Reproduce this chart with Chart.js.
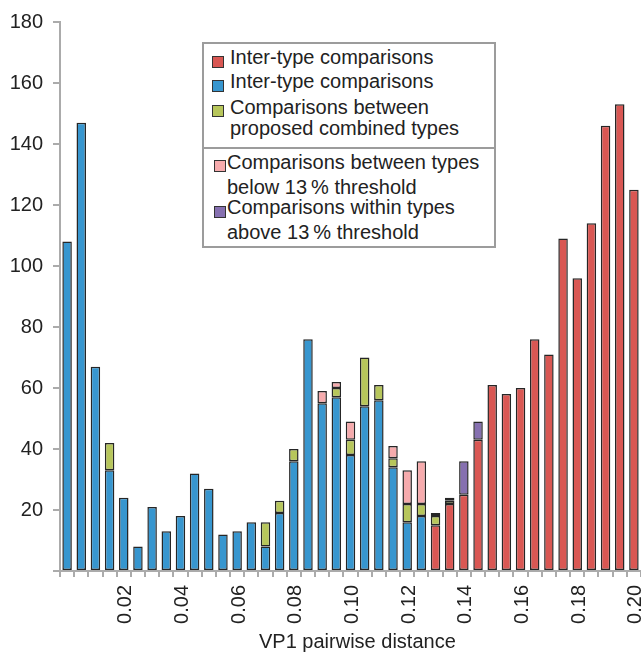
<!DOCTYPE html>
<html>
<head>
<meta charset="utf-8">
<script src="https://cdn.jsdelivr.net/npm/chart.js@4/dist/chart.umd.min.js"></script>
<style>
  body { margin: 0; background: #fff; font-family: "Liberation Sans", Arial, sans-serif; color: #222; }
  #wrap { position: relative; width: 641px; height: 654px; overflow: hidden; }
  #legend { position: absolute; left: 202px; top: 42px; width: 294px; height: 206px; box-sizing: border-box;
            border: 2px solid #9c9c9c; background: #fff; }
  #legend .divider { position: absolute; left: 0; right: 0; top: 103px; height: 2px; background: #9c9c9c; }
  #legend .txt { position: absolute; font-size: 20px; line-height: 24px; white-space: nowrap; }
  #legend .sw { position: absolute; width: 10px; height: 10px; border: 1px solid #333; }
  #xtitle { position: absolute; left: 259px; top: 629px; font-size: 20px; line-height: 24px; white-space: nowrap; }
</style>
</head>
<body>
<div id="wrap">
  <canvas id="chart"></canvas>
  <div id="legend">
    <div class="divider"></div>
    <div class="sw" style="left:8px;top:12px;background:#d95753"></div>
    <div class="txt" style="left:26px;top:1px">Inter-type comparisons</div>
    <div class="sw" style="left:8px;top:36px;background:#3796cf"></div>
    <div class="txt" style="left:26px;top:25px">Inter-type comparisons</div>
    <div class="sw" style="left:8px;top:61px;background:#b7c65b"></div>
    <div class="txt" style="left:26px;top:51px">Comparisons between</div>
    <div class="txt" style="left:26px;top:72px">proposed combined types</div>
    <div class="sw" style="left:10px;top:116px;background:#f6abad"></div>
    <div class="txt" style="left:23px;top:106px">Comparisons between types</div>
    <div class="txt" style="left:23px;top:131px">below 13&#8201;% threshold</div>
    <div class="sw" style="left:10px;top:162px;background:#8670b0"></div>
    <div class="txt" style="left:23px;top:151px">Comparisons within types</div>
    <div class="txt" style="left:23px;top:176px">above 13&#8201;% threshold</div>
  </div>
  <div id="xtitle">VP1 pairwise distance</div>
</div>
<script>
// VP1 pairwise distance bins (0.005 wide)
const distances = [0.000, 0.005, 0.010, 0.015, 0.020, 0.025, 0.030, 0.035, 0.040, 0.045,
  0.050, 0.055, 0.060, 0.065, 0.070, 0.075, 0.080, 0.085, 0.090, 0.095,
  0.100, 0.105, 0.110, 0.115, 0.120, 0.125, 0.130, 0.135, 0.140, 0.145,
  0.150, 0.155, 0.160, 0.165, 0.170, 0.175, 0.180, 0.185, 0.190, 0.195, 0.200];
const xTickLabels = ['0.02', '0.04', '0.06', '0.08', '0.10', '0.12', '0.14', '0.16', '0.18', '0.20'];
const yTickLabels = [20, 40, 60, 80, 100, 120, 140, 160, 180];

// counts per bin (0 = no segment)
const interRed = [0, 0, 0, 0, 0, 0, 0, 0, 0, 0, 0, 0, 0, 0, 0, 0, 0, 0, 0, 0, 0, 0, 0, 0, 0, 0,
  15, 22, 25, 43, 61, 58, 60, 76, 71, 109, 96, 114, 146, 153, 125];
const interBlue = [108, 147, 67, 33, 24, 8, 21, 13, 18, 32, 27, 12, 13, 16, 8, 19, 36, 76, 55, 57,
  38, 54, 56, 34, 16, 18, 0, 0, 0, 0, 0, 0, 0, 0, 0, 0, 0, 0, 0, 0, 0];
const combined = [0, 0, 0, 9, 0, 0, 0, 0, 0, 0, 0, 0, 0, 0, 8, 4, 4, 0, 0, 3,
  5, 16, 5, 3, 6, 4, 3, 1, 0, 0, 0, 0, 0, 0, 0, 0, 0, 0, 0, 0, 0];
const belowThreshold = [0, 0, 0, 0, 0, 0, 0, 0, 0, 0, 0, 0, 0, 0, 0, 0, 0, 0, 4, 2,
  6, 0, 0, 4, 11, 14, 0, 0, 0, 0, 0, 0, 0, 0, 0, 0, 0, 0, 0, 0, 0];
const aboveThreshold = [0, 0, 0, 0, 0, 0, 0, 0, 0, 0, 0, 0, 0, 0, 0, 0, 0, 0, 0, 0,
  0, 0, 0, 0, 0, 0, 1, 1, 11, 6, 0, 0, 0, 0, 0, 0, 0, 0, 0, 0, 0];

const seg = arr => arr.map(v => (v ? v : null));
const font = { family: '"Liberation Sans", Arial, sans-serif', size: 20 };
const axisGrey = '#ababab';

function bars(label, data, color) {
  return {
    label: label,
    data: seg(data),
    backgroundColor: color,
    borderColor: '#262626',
    borderWidth: 1.5,
    borderSkipped: false,
    barPercentage: 0.67,
    categoryPercentage: 1.0,
  };
}

const canvas = document.getElementById('chart');
canvas.width = 641;
canvas.height = 654;

new Chart(canvas.getContext('2d'), {
  type: 'bar',
  data: {
    labels: distances,
    datasets: [
      bars('Inter-type comparisons', interRed, '#d95753'),
      bars('Inter-type comparisons', interBlue, '#3796cf'),
      bars('Comparisons between proposed combined types', combined, '#b7c65b'),
      bars('Comparisons between types below 13 % threshold', belowThreshold, '#f6abad'),
      bars('Comparisons within types above 13 % threshold', aboveThreshold, '#8670b0'),
    ],
  },
  options: {
    responsive: false,
    animation: false,
    layout: { padding: { top: 20, right: 0, bottom: 0, left: 0 } },
    plugins: { legend: { display: false }, tooltip: { enabled: false } },
    scales: {
      x: {
        stacked: true,
        grid: { offset: true, drawOnChartArea: false, tickLength: 6, color: axisGrey, lineWidth: 2 },
        border: { color: axisGrey, width: 2 },
        ticks: {
          autoSkip: false,
          minRotation: 90,
          maxRotation: 90,
          padding: 8,
          labelOffset: 2,
          color: '#222',
          font: font,
          callback: function (value, index) {
            const d = distances[index];
            const lbl = d.toFixed(2);
            return d.toFixed(3).endsWith('0') && xTickLabels.includes(lbl) ? lbl : '';
          },
        },
        afterFit: function (scale) {
          scale.height = 83;
          scale.paddingLeft = 0;
          scale.paddingRight = 0;
        },
      },
      y: {
        stacked: true,
        min: 0,
        max: 180,
        grid: { drawOnChartArea: false, tickLength: 7, color: axisGrey, lineWidth: 2 },
        border: { color: axisGrey, width: 2 },
        ticks: {
          stepSize: 20,
          padding: 10,
          color: '#222',
          font: font,
          callback: function (value) {
            return yTickLabels.includes(value) ? String(value) : '';
          },
        },
        afterFit: function (scale) {
          scale.width = 60;
        },
      },
    },
  },
});
</script>
</body>
</html>
